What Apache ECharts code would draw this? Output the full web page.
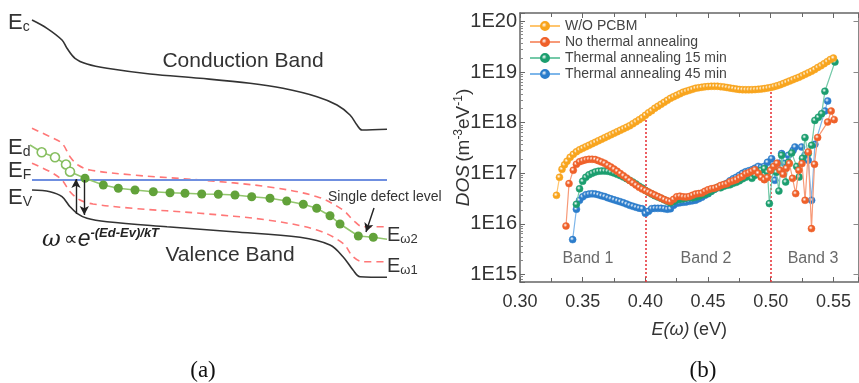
<!DOCTYPE html>
<html>
<head>
<meta charset="utf-8">
<script src="https://cdn.jsdelivr.net/npm/echarts@6/dist/echarts.min.js"></script>
<style>
html,body{margin:0;padding:0;background:#fff}
#chart{width:859px;height:383px}
</style>
</head>
<body>
<div id="chart"></div>
<script>
// ---------- panel (b): density of states ----------
const seriesNames = ['W/O PCBM', 'No thermal annealing', 'Thermal annealing 15 min', 'Thermal annealing 45 min'];
const seriesColors = ['#F8A51E', '#EF612A', '#1C9E6F', '#2C7DCB'];
const lineColors = ['#FFC56E', '#F79A78', '#74C9A8', '#7DB6EA'];

// shared energy grid (eV) of the densely sampled part
const energyGrid = [0.340,0.3425,0.345,0.3475,0.350,0.3525,0.355,0.3575,0.360,0.3625,0.365,0.3675,0.370,0.3725,0.375,0.3775,0.380,0.3825,0.385,0.3875,0.390,0.3925,0.395,0.3975,0.400,0.4025,0.405,0.4075,0.410,0.4125,0.415,0.4175,0.420,0.4225,0.425,0.4275,0.430,0.4325,0.435,0.4375,0.440,0.4425,0.445,0.4475,0.450,0.4525,0.455,0.4575,0.460,0.4625,0.465,0.4675,0.470,0.4725,0.475,0.4775,0.480,0.4825,0.485,0.4875,0.490,0.4925,0.495,0.4975,0.500,0.5025,0.505,0.5075,0.510,0.5125,0.515,0.5175,0.520,0.5225,0.525,0.5275,0.530,0.5325,0.535,0.5375,0.540,0.5425,0.545,0.5475,0.550];

// W/O PCBM
const pcbmHeadE = [0.3291,0.3315,0.3335,0.3355,0.3375];
const pcbmHeadDos = [3.67e16,8.34e16,1.20e17,1.47e17,1.73e17];
const pcbmDos = [2.07e17,2.37e17,2.66e17,2.91e17,3.12e17,3.34e17,3.57e17,3.83e17,4.10e17,4.39e17,
  4.70e17,5.03e17,5.39e17,5.77e17,6.18e17,6.61e17,7.08e17,7.57e17,8.11e17,8.69e17,
  9.51e17,1.04e18,1.14e18,1.25e18,1.40e18,1.57e18,1.72e18,1.93e18,2.11e18,2.31e18,
  2.53e18,2.77e18,3.03e18,3.25e18,3.48e18,3.72e18,3.99e18,4.18e18,4.37e18,4.57e18,
  4.79e18,4.90e18,5.01e18,5.12e18,5.19e18,5.24e18,5.24e18,5.24e18,5.16e18,5.08e18,
  4.96e18,4.83e18,4.72e18,4.61e18,4.53e18,4.49e18,4.47e18,4.47e18,4.49e18,4.51e18,
  4.57e18,4.63e18,4.72e18,4.83e18,4.96e18,5.16e18,5.36e18,5.61e18,5.93e18,6.28e18,
  6.64e18,7.05e18,7.48e18,7.89e18,8.45e18,9.06e18,9.68e18,1.04e19,1.12e19,1.23e19,
  1.33e19,1.46e19,1.61e19,1.77e19,1.89e19];

// No thermal annealing
const noAnnHeadE = [0.3367,0.3391];
const noAnnHeadDos = [9.08e15,6.26e16];
const noAnnDos = [null,1.15e17,1.51e17,1.69e17,1.78e17,1.85e17,1.89e17,1.89e17,1.87e17,1.78e17,
  1.68e17,1.58e17,1.44e17,1.33e17,1.21e17,1.10e17,9.91e16,8.93e16,8.04e16,7.21e16,
  6.49e16,5.85e16,5.29e16,4.88e16,4.55e16,4.25e16,3.97e16,3.71e16,3.47e16,3.24e16,
  3.03e16,2.86e16,2.76e16,3.06e16,3.43e16,3.54e16,3.43e16,3.39e16,3.47e16,3.67e16,
  3.88e16,3.97e16,4.06e16,4.41e16,4.72e16,4.94e16,5.06e16,5.29e16,5.74e16,5.98e16,
  6.20e16,6.79e16,7.11e16,7.50e16,8.15e16,8.73e16,9.77e16,1.03e17];
const noAnnTailE = [0.4850,0.4874,0.4900,0.4924,0.4949,0.4974,0.4999,0.5024,0.5049,0.5074,0.5099,0.5124,0.5149,0.5174,0.5199,0.5224,0.5249,0.5274,0.5299,0.5325,0.5349,0.5374,0.5454,0.5482,0.5506];
const noAnnTailDos = [1.10e17,1.18e17,1.00e17,8.34e16,7.50e16,8.22e16,1.15e17,1.37e17,1.58e17,1.15e17,9.55e16,1.26e17,1.56e17,7.96e16,3.97e16,1.15e17,1.56e17,2.93e16,2.64e17,8.07e15,1.51e17,5.08e17,1.03e18,1.70e18,1.15e18];

// Thermal annealing 15 min
const ann15Dos = [null,null,2.44e16,4.94e16,6.95e16,8.34e16,9.33e16,1.00e17,1.06e17,1.10e17,
  1.11e17,1.11e17,1.10e17,1.06e17,1.01e17,9.55e16,9.02e16,8.45e16,7.85e16,7.28e16,
  6.70e16,6.15e16,5.58e16,5.10e16,4.61e16,4.22e16,3.90e16,3.62e16,3.40e16,3.21e16,
  2.99e16,2.80e16,2.61e16,2.80e16,2.99e16,3.06e16,3.13e16,3.24e16,3.31e16,3.28e16,
  3.39e16,3.51e16,3.76e16,3.85e16,4.03e16,4.41e16,4.83e16,5.29e16,5.17e16,5.53e16,
  5.79e16,5.93e16,6.34e16,6.64e16,7.11e16,7.78e16,8.34e16,8.93e16];
const ann15TailE = [0.4850,0.4874,0.4900,0.4924,0.4949,0.4974,0.4989,0.5020,0.5045,0.5065,0.5087,0.5119,0.5141,0.5167,0.5207,0.5227,0.5253,0.5273,0.5299,0.5326,0.5352,0.5380,0.5406,0.5432,0.5512];
const ann15TailDos = [7.96e16,9.12e16,1.05e17,1.15e17,1.24e17,1.05e17,2.52e16,1.33e17,1.05e17,4.47e16,2.27e17,6.73e16,1.65e17,2.52e17,1.37e17,8.45e16,1.98e17,5.08e17,2.45e17,3.57e17,1.11e18,1.28e18,1.51e18,4.18e18,1.58e19];

// Thermal annealing 45 min
const ann45HeadE = [0.3420];
const ann45HeadDos = [4.90e15];
const ann45Dos = [null,null,1.95e16,2.93e16,3.43e16,3.76e16,3.88e16,3.94e16,3.88e16,3.76e16,
  3.59e16,3.47e16,3.28e16,3.13e16,2.99e16,2.86e16,2.74e16,2.61e16,2.47e16,2.33e16,
  2.23e16,2.13e16,2.05e16,1.99e16,1.62e16,1.77e16,2.00e16,2.03e16,2.03e16,2.03e16,
  2.00e16,1.95e16,1.99e16,2.33e16,2.55e16,2.61e16,2.67e16,2.71e16,2.80e16,2.86e16,
  2.95e16,3.13e16,3.36e16,3.67e16,3.94e16,4.41e16,4.83e16,5.17e16,5.53e16,5.93e16,
  6.34e16,7.11e16,7.78e16,8.34e16,9.12e16,1.00e17,1.07e17,1.12e17];
const ann45TailE = [0.4850,0.4874,0.4900,0.4924,0.4949,0.4974,0.5007,0.5033,0.5061,0.5087,0.5113,0.5141,0.5179,0.5193,0.5246,0.5273,0.5299,0.5326,0.5352,0.5432,0.5454];
const ann45TailDos = [1.17e17,1.26e17,1.37e17,1.31e17,1.37e17,1.65e17,1.95e17,7.28e16,1.58e17,2.45e17,1.56e17,2.27e17,2.85e17,3.31e17,3.31e17,2.27e17,1.81e17,2.93e16,3.74e17,1.70e18,2.69e18];

const bandEdges = [0.40, 0.50];
const bandNames = ['Band 1', 'Band 2', 'Band 3'];
const bandLabelE = [0.3542, 0.4483, 0.5337];
const yTickExp = [15, 16, 17, 18, 19, 20];

// ---------- panel (a): band diagram (schematic units) ----------
const conductionBand = [[32,280],[47,271.7],[62,260],[67,251.7],[75,241.7],[87,236],[107,231.7],[150,226],[200,221.7],[250,216.7],[283,211.7],[317,203.3],[337,195],[350,185],[357,175],[362,170],[387,170.7]];
const valenceBand = [[32,110],[50,108.3],[62,103.3],[70,93.3],[77,86.7],[87,81.7],[107,78.3],[167,73.3],[233,68.3],[300,62.7],[330,55],[343,43.3],[353,30],[360,23.3],[387,22.7]];
const upperDemarcation = [[32,171.7],[50,163.3],[62,156.7],[70,143.3],[78,135],[90,130],[133,125],[200,120],[267,113.3],[317,103.3],[343,90],[353,80],[363,73.3],[387,73.3]];
const lowerDemarcation = [[32,136.7],[50,128.3],[62,120],[70,108.3],[80,100],[93,96],[133,91.7],[200,86.7],[267,80],[317,70],[343,56.7],[353,43.3],[363,38.3],[387,38.3]];
const fermiLevel = [[32,120],[387,120]];
const emptyDefects = [[41.7,147.7],[55,142.7],[66,135.5],[70,128.3]];
const filledDefects = [[85,121.7],[103.3,115],[118.3,111.7],[135,110],[153.3,108.3],[170,107.3],[185,106.7],[201.7,106],[218.3,105.7],[235,105],[251.7,103.3],[270,101.7],[286.7,99],[303.3,95.7],[316.7,91.7],[330,84.3],[340,76],[358.3,64],[373.3,62.7]];
const defectStart = [30,155];
const defectEnd = [387,60.7];

function pairs(E, D) {
  return E.map((e, i) => [e, D[i]]).filter(p => p[1] != null);
}
function ball(c) {
  return new echarts.graphic.RadialGradient(0.4, 0.38, 0.6, [
    {offset: 0, color: '#ffffff'},
    {offset: 0.45, color: c},
    {offset: 1, color: c}
  ]);
}

const dosData = [
  pairs(pcbmHeadE, pcbmHeadDos).concat(pairs(energyGrid, pcbmDos)),
  pairs(noAnnHeadE, noAnnHeadDos).concat(pairs(energyGrid, noAnnDos), pairs(noAnnTailE, noAnnTailDos)),
  pairs(energyGrid, ann15Dos).concat(pairs(ann15TailE, ann15TailDos)),
  pairs(ann45HeadE, ann45HeadDos).concat(pairs(energyGrid, ann45Dos), pairs(ann45TailE, ann45TailDos))
];

const yMin = Math.pow(10, 14.852);
const yMax = Math.pow(10, 20.168);
const edgeTop = bandEdges.map(e => pcbmDos[energyGrid.indexOf(e)]);

const FONT = 'Liberation Sans';
const chart = echarts.init(document.getElementById('chart'));

const dosSeries = seriesNames.map((name, i) => ({
  name: name,
  type: 'line',
  xAxisIndex: 0,
  yAxisIndex: 0,
  data: dosData[i],
  symbol: 'circle',
  symbolSize: 7,
  showAllSymbol: true,
  z: 10 - i,
  lineStyle: {color: lineColors[i], width: 1.2},
  itemStyle: {color: ball(seriesColors[i]), borderColor: seriesColors[i], borderWidth: 0.5},
  emphasis: {disabled: true},
  animation: false
})).reverse();

const schemLine = (data, color, type, width) => ({
  type: 'line', xAxisIndex: 2, yAxisIndex: 2, data: data, symbol: 'none',
  smooth: 0.35, silent: true, animation: false,
  lineStyle: {color: color, width: width, type: type}
});

const subLabel = (x, y, main, sub, size) => ({
  type: 'text', x: x, y: y,
  style: {
    text: '{e|' + main + '}{s|' + sub + '}',
    rich: {
      e: {fontSize: size, fontFamily: FONT, fill: '#333'},
      s: {fontSize: Math.round(size * 0.64), fontFamily: FONT, fill: '#333', padding: [8, 0, 0, 0]}
    }
  }
});

const option = {
  backgroundColor: '#ffffff',
  animation: false,
  textStyle: {fontFamily: FONT},
  grid: [
    {left: 520, top: 13, right: 0.5, height: 269},
    {left: 0, top: 0, width: 430, height: 300}
  ],
  legend: {
    data: seriesNames,
    orient: 'vertical',
    left: 524,
    top: 14,
    itemWidth: 30,
    itemHeight: 10,
    itemGap: 2,
    textStyle: {fontSize: 14, color: '#444', fontFamily: FONT, lineHeight: 14}
  },
  xAxis: [
    {
      gridIndex: 0, type: 'value', min: 0.30, max: 0.57, interval: 0.05, position: 'bottom',
      axisLine: {lineStyle: {color: '#666', width: 1.5}},
      axisTick: {inside: true, length: 5, lineStyle: {color: '#666'}},
      minorTick: {show: true, splitNumber: 2, length: 4, lineStyle: {color: '#666'}},
      splitLine: {show: false},
      axisLabel: {fontSize: 18, color: '#333', margin: 11, showMaxLabel: false, formatter: v => v.toFixed(2)},
      name: '{i|E(ω)} {n|(eV)}', nameLocation: 'middle', nameGap: 39,
      nameTextStyle: {rich: {i: {fontSize: 18, fontStyle: 'italic', color: '#333'}, n: {fontSize: 18, color: '#333'}}}
    },
    {
      gridIndex: 0, type: 'value', min: 0.30, max: 0.57, interval: 0.05, position: 'top',
      axisLine: {lineStyle: {color: '#666', width: 1.5}},
      axisTick: {inside: true, length: 5, lineStyle: {color: '#666'}},
      minorTick: {show: true, splitNumber: 2, length: 4, lineStyle: {color: '#666'}},
      splitLine: {show: false}, axisLabel: {show: false}
    },
    {gridIndex: 1, type: 'value', min: 0, max: 430, show: false}
  ],
  yAxis: [
    {
      gridIndex: 0, type: 'log', logBase: 10, min: yMin, max: yMax, position: 'left',
      axisLine: {show: true, lineStyle: {color: '#666', width: 1.5}},
      axisTick: {show: true, inside: true, length: 5, lineStyle: {color: '#666'}},
      minorTick: {show: true, splitNumber: 10, length: 3, lineStyle: {color: '#888'}},
      splitLine: {show: false},
      axisLabel: {
        fontSize: 20, color: '#333', margin: 3, showMinLabel: false, showMaxLabel: false,
        formatter: v => {
          const e = Math.round(Math.log10(v));
          return yTickExp.indexOf(e) >= 0 ? '1E' + e : '';
        }
      },
      name: '{i|DOS} {n|(m}{s|-3}{n|eV}{s|-1}{n|)}', nameLocation: 'middle', nameGap: 45, nameRotate: 90,
      nameMoveOverlap: false,
      nameTextStyle: {
        lineHeight: 22,
        rich: {
          i: {fontSize: 19, fontStyle: 'italic', color: '#333', lineHeight: 22},
          n: {fontSize: 19, color: '#333', lineHeight: 22},
          s: {fontSize: 12, color: '#333', verticalAlign: 'top', lineHeight: 22}
        }
      }
    },
    {
      gridIndex: 0, type: 'log', logBase: 10, min: yMin, max: yMax, position: 'right',
      axisLine: {show: true, lineStyle: {color: '#888', width: 1}},
      axisTick: {show: true, inside: true, length: 5, lineStyle: {color: '#888'}},
      splitLine: {show: false}, axisLabel: {show: false}
    },
    {gridIndex: 1, type: 'value', min: 0, max: 300, show: false}
  ],
  series: dosSeries.concat([
    {
      // band boundaries and band names
      type: 'scatter', xAxisIndex: 0, yAxisIndex: 0, silent: true, symbolSize: 0, z: 1,
      data: bandLabelE.map((e, i) => ({value: [e, 2.1e15], name: bandNames[i]})),
      label: {show: true, position: 'inside', formatter: p => p.name, fontSize: 16, color: '#444', fontFamily: FONT},
      markLine: {
        silent: true, symbol: ['none', 'none'], label: {show: false},
        lineStyle: {color: '#E8383D', type: [2, 2], width: 1.6},
        data: bandEdges.map((e, i) => [{coord: [e, yMin]}, {coord: [e, edgeTop[i]]}])
      }
    },
    schemLine(conductionBand, '#333', 'solid', 1.6),
    schemLine(valenceBand, '#333', 'solid', 1.6),
    schemLine(upperDemarcation, '#FF7777', [7, 5], 1.6),
    schemLine(lowerDemarcation, '#FF7777', [7, 5], 1.6),
    Object.assign(schemLine(fermiLevel, '#6F8FE0', 'solid', 1.8), {
      smooth: false,
      markLine: {
        silent: true, symbol: ['none', 'arrow'], symbolSize: [7, 9], label: {show: false},
        lineStyle: {color: '#222', width: 1.4, type: 'solid'},
        data: [
          [{coord: [76, 86]}, {coord: [76, 121]}],
          [{coord: [84.3, 120]}, {coord: [84.3, 85]}],
          [{coord: [374, 92]}, {coord: [366, 68]}]
        ]
      }
    }),
    {
      type: 'line', xAxisIndex: 2, yAxisIndex: 2, silent: true, animation: false,
      data: [{value: defectStart, symbol: 'none'}].concat(emptyDefects, [{value: filledDefects[0], symbol: 'none'}]),
      symbol: 'circle', symbolSize: 9,
      lineStyle: {color: '#92C66D', width: 1.6},
      itemStyle: {color: '#ffffff', borderColor: '#86BE5F', borderWidth: 1.6}
    },
    {
      type: 'line', xAxisIndex: 2, yAxisIndex: 2, silent: true, animation: false,
      data: filledDefects.concat([{value: defectEnd, symbol: 'none'}]),
      symbol: 'circle', symbolSize: 9, showAllSymbol: true,
      lineStyle: {color: '#92C66D', width: 1.6},
      itemStyle: {color: '#62A23A', borderWidth: 0}
    }
  ]),
  graphic: [
    subLabel(8, 12, 'E', 'c', 22),
    subLabel(8, 137, 'E', 'd', 22),
    subLabel(8, 160, 'E', 'F', 22),
    subLabel(8, 187, 'E', 'V', 22),
    subLabel(387, 225, 'E', 'ω2', 20),
    subLabel(387, 256, 'E', 'ω1', 20),
    {type: 'text', x: 243, y: 61, style: {text: 'Conduction Band', fontSize: 21, fontFamily: FONT, fill: '#333', align: 'center', verticalAlign: 'middle'}},
    {type: 'text', x: 230, y: 255, style: {text: 'Valence Band', fontSize: 21, fontFamily: FONT, fill: '#333', align: 'center', verticalAlign: 'middle'}},
    {type: 'text', x: 328, y: 197, style: {text: 'Single defect level', fontSize: 14, fontFamily: FONT, fill: '#333', verticalAlign: 'middle'}},
    {type: 'text', x: 42, y: 227, style: {
      text: '{w|ω} {p|∝}{e|e}{s|-(Ed-Ev)/kT}',
      rich: {
        w: {fontSize: 23, fontStyle: 'italic', fontFamily: 'DejaVu Serif', fill: '#222', lineHeight: 26},
        p: {fontSize: 19, fontFamily: 'DejaVu Sans', fill: '#222', lineHeight: 26},
        e: {fontSize: 23, fontStyle: 'italic', fontFamily: FONT, fill: '#222', lineHeight: 26},
        s: {fontSize: 13, fontStyle: 'italic', fontWeight: 'bold', fontFamily: FONT, fill: '#222', verticalAlign: 'top', lineHeight: 26}
      }
    }},
    {type: 'text', x: 203, y: 371, style: {text: '(a)', fontSize: 23, fontFamily: 'Liberation Serif', fill: '#111', align: 'center', verticalAlign: 'middle'}},
    {type: 'text', x: 703, y: 371, style: {text: '(b)', fontSize: 23, fontFamily: 'Liberation Serif', fill: '#111', align: 'center', verticalAlign: 'middle'}}
  ]
};

chart.setOption(option);
</script>
</body>
</html>
